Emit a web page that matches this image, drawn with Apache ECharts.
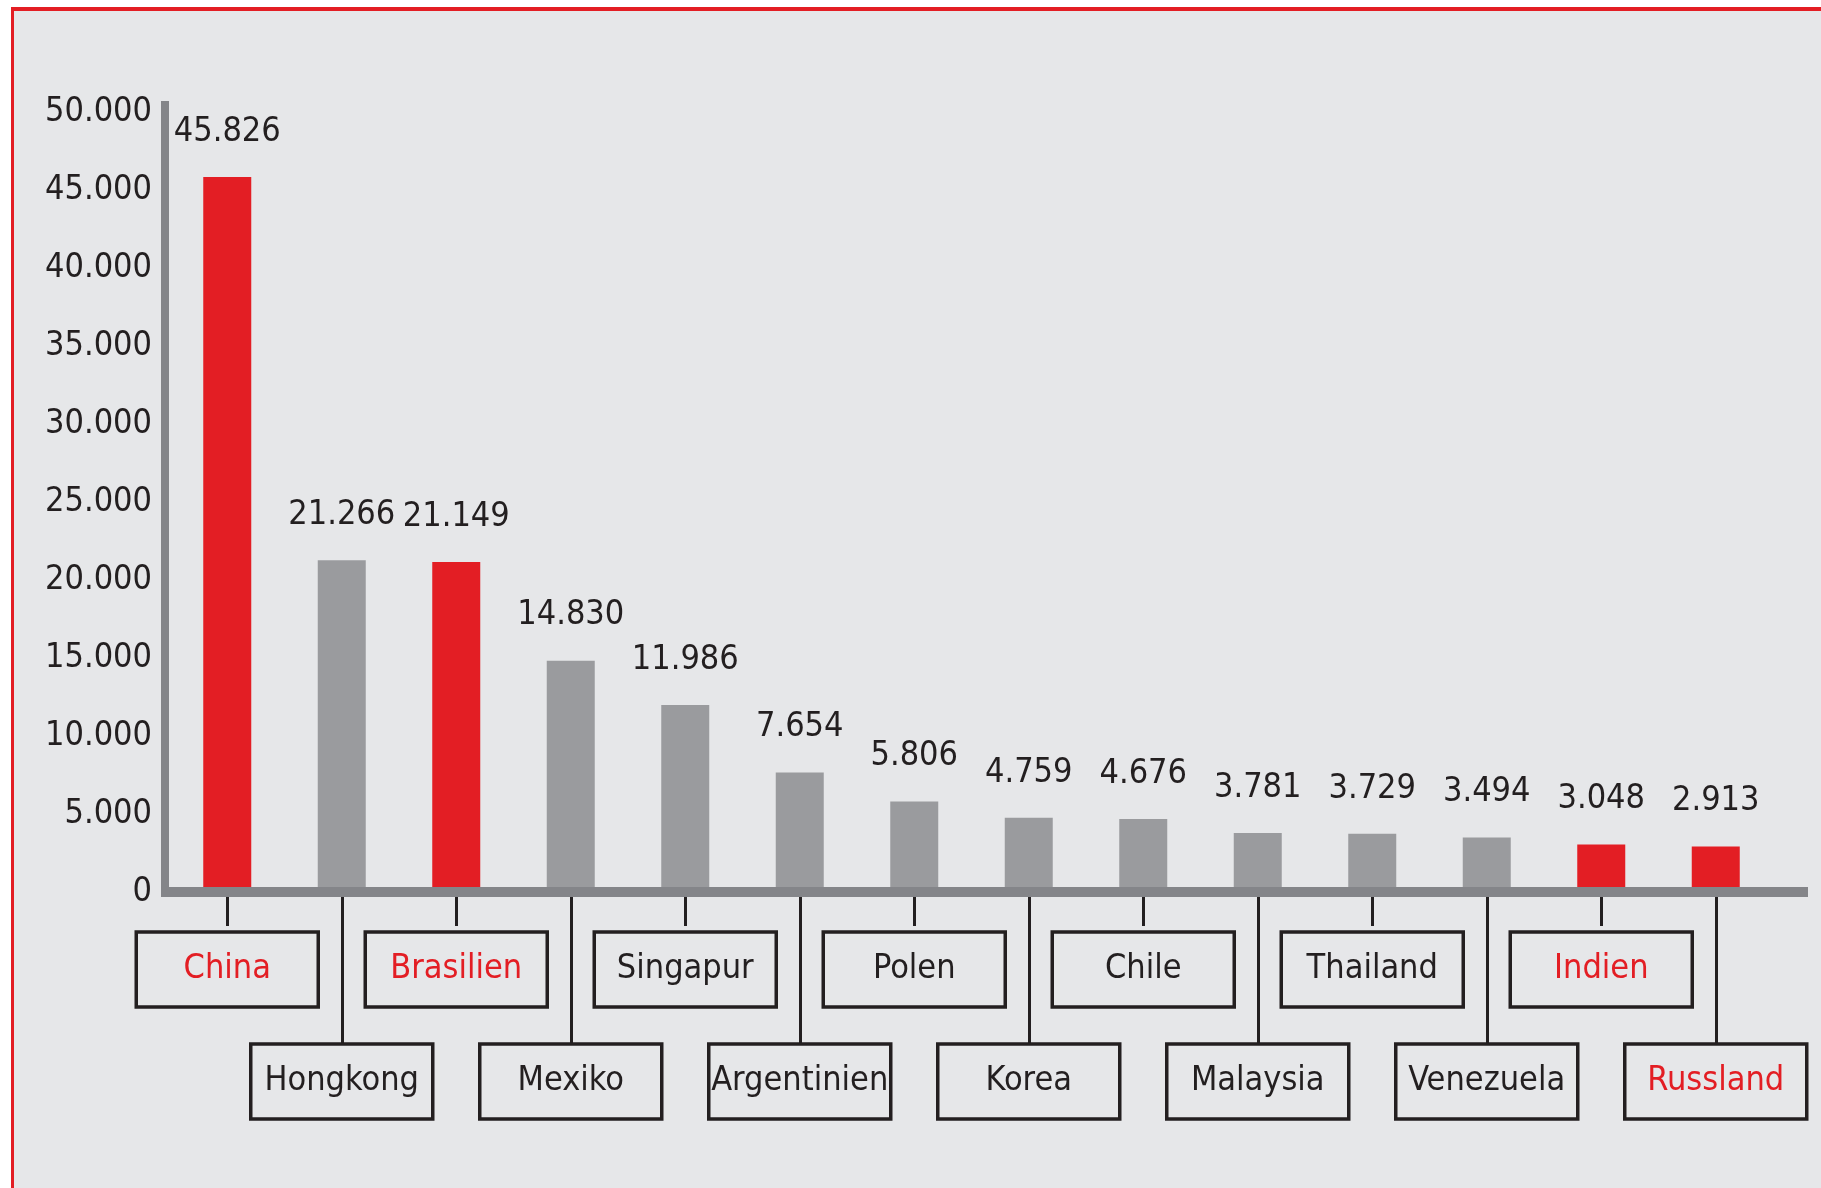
<!DOCTYPE html>
<html>
<head>
<meta charset="utf-8">
<script src="https://cdn.jsdelivr.net/npm/echarts@6/dist/echarts.min.js"></script>
<style>
html,body{margin:0;padding:0;background:#fff;}
#rahmen{position:absolute;left:11px;top:7px;right:0;bottom:0;border-left:3px solid #e31e24;border-top:4px solid #e31e24;background:#e6e7e9;}
#container{position:absolute;left:0;top:0;width:1821px;height:1188px;}
</style>
</head>
<body>
<div id="rahmen"></div>
<div id="container"></div>
<script>
// Länder und Werte
var laender = ['China','Hongkong','Brasilien','Mexiko','Singapur','Argentinien','Polen','Korea','Chile','Malaysia','Thailand','Venezuela','Indien','Russland'];
var werte = [45826, 21266, 21149, 14830, 11986, 7654, 5806, 4759, 4676, 3781, 3729, 3494, 3048, 2913];
var markiert = ['China','Brasilien','Indien','Russland'];

var FONT = "'Liberation Sans Narrow','DejaVu Sans Condensed',sans-serif";
var GROESSE = 34;
var ROT = '#e31e24', GRAU = '#9a9b9e', DUNKEL = '#231f20', ACHSE = '#848589';

function tausender(v){ return String(v).replace(/\B(?=(\d{3})+(?!\d))/g, '.'); }
function istRot(name){ return markiert.indexOf(name) >= 0; }
function kasten(farbe){
    return {color:farbe, fontFamily:FONT, fontSize:GROESSE, width:182, height:75, lineHeight:75,
            align:'center', borderColor:DUNKEL, borderWidth:3.5};
}
function landAchse(gerade, laenge, abstand){
    var wahl = function(i){ return (i % 2 === 0) === gerade; };
    return {
        type:'category', gridIndex:0, data:laender, position:'bottom', offset:5,
        axisLine:{show:true, lineStyle:{color:DUNKEL, width:0, opacity:0}},
        axisTick:{show:true, alignWithLabel:true, length:laenge, interval:wahl, lineStyle:{color:DUNKEL, width:3, cap:'butt'}},
        axisLabel:{
            show:true, interval:wahl, margin:abstand,
            formatter:function(v){ return istRot(v) ? '{r|' + v + '}' : '{s|' + v + '}'; },
            rich:{r:kasten(ROT), s:kasten(DUNKEL)}
        },
        splitLine:{show:false}
    };
}

var myChart = echarts.init(document.getElementById('container'));
option = {
    animation:false,
    grid:[
        {left:170, right:48, top:112, bottom:296},   // Balken
        {left:161, right:13, top:101, bottom:296}    // Achsenlinien
    ],
    xAxis:[
        landAchse(true, 34, 35),
        landAchse(false, 146, 147),
        {type:'value', gridIndex:1, min:0, max:1, z:5,
         axisLine:{show:true, lineStyle:{color:ACHSE, width:10, cap:'butt'}},
         axisTick:{show:false}, axisLabel:{show:false}, splitLine:{show:false}}
    ],
    yAxis:[
        {type:'value', gridIndex:0, min:0, max:50000, interval:5000,
         axisLine:{show:false}, axisTick:{show:false}, splitLine:{show:false},
         axisLabel:{margin:18, color:DUNKEL, fontFamily:FONT, fontSize:GROESSE, padding:[6,0,0,0],
                    formatter:function(v){ return tausender(v); }}},
        {type:'value', gridIndex:1, min:0, max:1, offset:-4, z:5,
         axisLine:{show:true, lineStyle:{color:ACHSE, width:8, cap:'butt'}},
         axisTick:{show:false}, axisLabel:{show:false}, splitLine:{show:false}}
    ],
    series:[
        {
            type:'bar', xAxisIndex:0, yAxisIndex:0, barWidth:48,
            data:werte.map(function(w, i){
                return {value:w, itemStyle:{color:istRot(laender[i]) ? ROT : GRAU}};
            }),
            label:{show:true, position:'top', distance:28, color:DUNKEL, fontFamily:FONT, fontSize:GROESSE,
                   formatter:function(p){ return tausender(p.value); }}
        }
    ]
};
myChart.setOption(option);
</script>
</body>
</html>
